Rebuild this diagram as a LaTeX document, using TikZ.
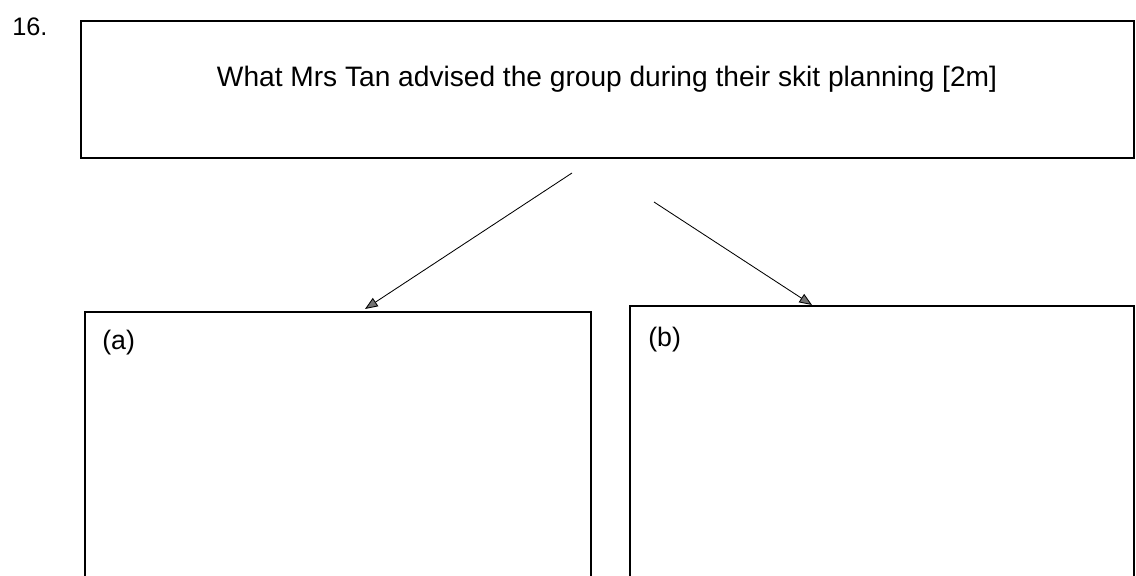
\documentclass[tikz,border=0pt]{standalone}
\usepackage{fontspec}
\setmainfont{Liberation Sans}
\usetikzlibrary{arrows.meta}

\tikzset{
  answerbox/.style={draw,line width=1.3pt},
  pointer/.style={line width=0.6pt,-{Triangle[length=9pt,width=7pt,fill=black!55]}},
  examtext/.style={font=\fontsize{19}{23}\selectfont,inner sep=0pt}
}

\begin{document}
\begin{tikzpicture}[x=0.025cm,y=-0.025cm]
    % Page frame
    \clip (0,0) rectangle (1136,575);
    \fill[white] (0,0) rectangle (1136,575);

    % Question number
    \node[examtext,anchor=base west,font=\fontsize{18}{22}\selectfont] (qnum) at (12,35) {16.};

    % Question box
    \draw[answerbox] (81,21) rectangle (1134,158);
    \node[examtext,anchor=base,font=\fontsize{20}{24}\selectfont] (question) at (607,86)
        {What Mrs Tan advised the group during their skit planning [2m]};

    % Answer boxes
    \draw[answerbox] (85,312) rectangle (591,600);
    \draw[answerbox] (630,306) rectangle (1134,600);
    \node[examtext,anchor=base west] (parta) at (102,349) {(a)};
    \node[examtext,anchor=base west] (partb) at (648,346) {(b)};

    % Arrows to the answer boxes
    \coordinate (fromA) at (572,173);
    \coordinate (toA) at (365,309);
    \coordinate (fromB) at (654,202);
    \coordinate (toB) at (812,305);
    \draw[pointer] (fromA) -- (toA);
    \draw[pointer] (fromB) -- (toB);
\end{tikzpicture}
\end{document}
